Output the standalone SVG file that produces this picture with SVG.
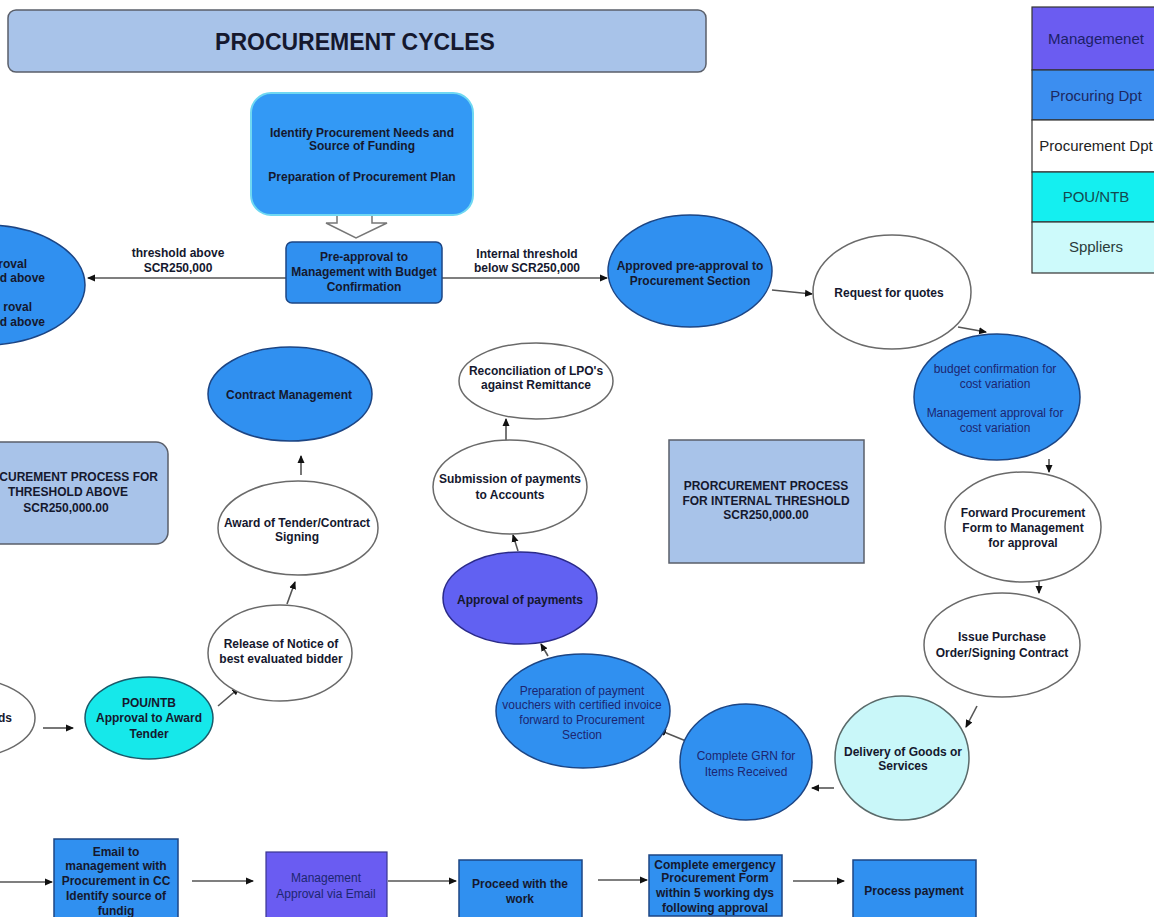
<svg xmlns="http://www.w3.org/2000/svg" width="1154" height="917" viewBox="0 0 1154 917">
  <style>
    text { font-family: "Liberation Sans", Arial, sans-serif; font-size: 12px; font-weight: bold; fill: #15182e; text-anchor: middle; }
    text.nv { font-weight: normal; fill: #1d2670; }
    text.lg { font-weight: normal; font-size: 15px; }
    .blue { fill: #3090f0; stroke: #1c4584; stroke-width: 1.5; }
    .white { fill: #ffffff; stroke: #6a6a6a; stroke-width: 1.5; }
    .purple { fill: #6161f2; stroke: #2a2a8a; stroke-width: 1.5; }
    .cyan { fill: #16e8ea; stroke: #1a5a6a; stroke-width: 1.5; }
    .pale { fill: #c9f7f9; stroke: #5a6a6a; stroke-width: 1.5; }
    .steel { fill: #a8c3e9; stroke: #5a5f6a; stroke-width: 1.5; }
    .conn line, .conn polyline { stroke: #555; stroke-width: 1.6; fill: none; marker-end: url(#head); }
  </style>
  <defs>
    <marker id="head" markerWidth="8" markerHeight="8" refX="7" refY="4" orient="auto" markerUnits="userSpaceOnUse">
      <path d="M0,0.5 L8,4 L0,7.5 Z" fill="#111"/>
    </marker>
  </defs>
  <rect width="1154" height="917" fill="#ffffff"/>

  <!-- heading -->
  <g id="title">
    <rect x="8" y="10" width="698" height="62" rx="8" class="steel"/>
    <text x="355" y="50" style="font-size:23px">PROCUREMENT CYCLES</text>
  </g>

  <!-- colour key -->
  <g id="legend">
    <rect x="1032" y="7" width="130" height="63" fill="#6b5cf1" stroke="#333" stroke-width="1.2"/>
    <rect x="1032" y="70" width="130" height="50" fill="#3c8ef0" stroke="#333" stroke-width="1.2"/>
    <rect x="1032" y="120" width="130" height="52" fill="#ffffff" stroke="#333" stroke-width="1.2"/>
    <rect x="1032" y="172" width="130" height="50" fill="#14eff0" stroke="#333" stroke-width="1.2"/>
    <rect x="1032" y="222" width="130" height="51" fill="#cdfafb" stroke="#333" stroke-width="1.2"/>
    <text class="lg" x="1096" y="44" style="fill:#1c2168">Managemenet</text>
    <text class="lg" x="1096" y="101" style="fill:#1c2860">Procuring Dpt</text>
    <text class="lg" x="1096" y="151" style="fill:#222">Procurement Dpt</text>
    <text class="lg" x="1096" y="202" style="fill:#14484e">POU/NTB</text>
    <text class="lg" x="1096" y="252" style="fill:#2a3a3a">Sppliers</text>
  </g>

  <!-- connectors -->
  <g id="connectors" class="conn">
    <polygon points="337,213 372,213 372,223 387,223 356,238 326,223 337,223" fill="#ffffff" stroke="#777" stroke-width="1.5"/>
    <line x1="286" y1="278" x2="88" y2="278"/>
    <line x1="442" y1="278" x2="607" y2="278"/>
    <line x1="772" y1="290" x2="812" y2="294"/>
    <line x1="958" y1="327" x2="986" y2="332"/>
    <line x1="1049" y1="459" x2="1049" y2="472"/>
    <line x1="1039" y1="580" x2="1039" y2="593"/>
    <line x1="977" y1="706" x2="966" y2="727"/>
    <line x1="834" y1="788" x2="812" y2="788"/>
    <line x1="686" y1="741" x2="659" y2="730"/>
    <line x1="548" y1="656" x2="541" y2="644"/>
    <line x1="518" y1="551" x2="513" y2="535"/>
    <line x1="506" y1="441" x2="506" y2="419"/>
    <line x1="43" y1="728" x2="73" y2="728"/>
    <line x1="218" y1="706" x2="239" y2="688"/>
    <line x1="287" y1="604" x2="295" y2="582"/>
    <line x1="301" y1="475" x2="301" y2="456"/>
    <line x1="0" y1="882" x2="52" y2="882"/>
    <line x1="192" y1="881" x2="253" y2="881"/>
    <line x1="388" y1="881" x2="456" y2="881"/>
    <line x1="598" y1="880" x2="647" y2="880"/>
    <line x1="793" y1="881" x2="844" y2="881"/>
  </g>

  <g id="needs">
    <rect x="251" y="93" width="222" height="122" rx="20" fill="#3399f5" stroke="#6fd8f2" stroke-width="2"/>
    <text x="362" y="137">Identify Procurement Needs and</text>
    <text x="362" y="150">Source of Funding</text>
    <text x="362" y="181">Preparation of Procurement Plan</text>
  </g>

  <g id="pre-approval">
    <rect x="286" y="242" width="156" height="61" rx="6" class="blue"/>
    <text x="364" y="261">Pre-approval to</text>
    <text x="364" y="276">Management with Budget</text>
    <text x="364" y="291">Confirmation</text>
  </g>

  <g id="label-above">
    <text x="178" y="257">threshold above</text>
    <text x="178" y="272">SCR250,000</text>
  </g>
  <g id="label-below">
    <text x="527" y="258">Internal threshold</text>
    <text x="527" y="272">below SCR250,000</text>
  </g>

  <g id="approval-above">
    <ellipse cx="-15" cy="285" rx="100" ry="60" class="blue"/>
    <text x="27" y="268" style="text-anchor:end">roval</text>
    <text x="45" y="282" style="text-anchor:end">d above</text>
    <text x="32" y="311" style="text-anchor:end">roval</text>
    <text x="45" y="326" style="text-anchor:end">d above</text>
  </g>

  <g id="approved-pre-approval">
    <ellipse cx="690" cy="271" rx="82" ry="56" class="blue"/>
    <text x="690" y="270">Approved pre-approval to</text>
    <text x="690" y="285">Procurement Section</text>
  </g>

  <g id="request-quotes">
    <ellipse cx="892" cy="292" rx="79" ry="57" class="white"/>
    <text x="889" y="297">Request for quotes</text>
  </g>

  <g id="budget-confirmation">
    <ellipse cx="997" cy="397" rx="83" ry="63" class="blue"/>
    <text class="nv" x="995" y="373">budget confirmation for</text>
    <text class="nv" x="995" y="388">cost variation</text>
    <text class="nv" x="995" y="417">Management approval for</text>
    <text class="nv" x="995" y="432">cost variation</text>
  </g>

  <g id="forward-form">
    <ellipse cx="1023" cy="527" rx="78" ry="55" class="white"/>
    <text x="1023" y="517">Forward Procurement</text>
    <text x="1023" y="532">Form to Management</text>
    <text x="1023" y="547">for approval</text>
  </g>

  <g id="purchase-order">
    <ellipse cx="1002" cy="645" rx="78" ry="52" class="white"/>
    <text x="1002" y="641">Issue Purchase</text>
    <text x="1002" y="657">Order/Signing Contract</text>
  </g>

  <g id="delivery">
    <ellipse cx="902" cy="758" rx="67" ry="62" class="pale"/>
    <text x="903" y="756">Delivery of Goods or</text>
    <text x="903" y="770">Services</text>
  </g>

  <g id="grn">
    <ellipse cx="746" cy="762" rx="66" ry="58" class="blue"/>
    <text class="nv" x="746" y="760">Complete GRN for</text>
    <text class="nv" x="746" y="776">Items Received</text>
  </g>

  <g id="payment-vouchers">
    <ellipse cx="583" cy="711" rx="87" ry="57" class="blue"/>
    <text class="nv" x="582" y="695">Preparation of payment</text>
    <text class="nv" x="582" y="709">vouchers with certified invoice</text>
    <text class="nv" x="582" y="724">forward to Procurement</text>
    <text class="nv" x="582" y="739">Section</text>
  </g>

  <g id="payment-approval">
    <ellipse cx="520" cy="598" rx="77" ry="46" class="purple"/>
    <text x="520" y="604">Approval of payments</text>
  </g>

  <g id="submission">
    <ellipse cx="510" cy="487" rx="77" ry="47" class="white"/>
    <text x="510" y="483">Submission of payments</text>
    <text x="510" y="499">to Accounts</text>
  </g>

  <g id="reconciliation">
    <ellipse cx="536" cy="381" rx="77" ry="38" class="white"/>
    <text x="536" y="375">Reconciliation of LPO's</text>
    <text x="536" y="389">against Remittance</text>
  </g>

  <g id="internal-process">
    <rect x="669" y="440" width="195" height="123" class="steel"/>
    <text x="766" y="490">PRORCUREMENT PROCESS</text>
    <text x="766" y="505">FOR INTERNAL THRESHOLD</text>
    <text x="766" y="519">SCR250,000.00</text>
  </g>

  <g id="above-process">
    <rect x="-20" y="442" width="188" height="102" rx="12" class="steel"/>
    <text x="158" y="481" style="text-anchor:end">CUREMENT PROCESS FOR</text>
    <text x="68" y="496">THRESHOLD ABOVE</text>
    <text x="66" y="512">SCR250,000.00</text>
  </g>

  <g id="contract-management">
    <ellipse cx="290" cy="394" rx="82" ry="47" class="blue"/>
    <text x="289" y="399">Contract Management</text>
  </g>

  <g id="award">
    <ellipse cx="298" cy="528" rx="80" ry="47" class="white"/>
    <text x="297" y="527">Award of Tender/Contract</text>
    <text x="297" y="541">Signing</text>
  </g>

  <g id="release-notice">
    <ellipse cx="280" cy="653" rx="72" ry="48" class="white"/>
    <text x="281" y="648">Release of Notice of</text>
    <text x="281" y="663">best evaluated bidder</text>
  </g>

  <g id="bids">
    <ellipse cx="-37" cy="718" rx="72" ry="40" class="white"/>
    <text x="12" y="722" style="text-anchor:end">ds</text>
  </g>

  <g id="pou-approval">
    <ellipse cx="149" cy="718" rx="64" ry="41" class="cyan"/>
    <text x="149" y="707">POU/NTB</text>
    <text x="149" y="722">Approval to Award</text>
    <text x="149" y="738">Tender</text>
  </g>

  <!-- emergency route -->
  <g id="email-management">
    <rect x="54" y="839" width="124" height="90" class="blue"/>
    <text x="116" y="856">Email to</text>
    <text x="116" y="870">management with</text>
    <text x="116" y="885">Procurement in CC</text>
    <text x="116" y="900">Identify source of</text>
    <text x="116" y="915">fundig</text>
  </g>

  <g id="management-email">
    <rect x="266" y="852" width="121" height="75" fill="#6a5cf2" stroke="#3a3490" stroke-width="1.2"/>
    <text class="nv" x="326" y="882">Management</text>
    <text class="nv" x="326" y="898">Approval via Email</text>
  </g>

  <g id="proceed">
    <rect x="459" y="860" width="123" height="67" class="blue"/>
    <text x="520" y="888">Proceed with the</text>
    <text x="520" y="903">work</text>
  </g>

  <g id="emergency-form">
    <rect x="649" y="855" width="133" height="61" class="blue"/>
    <text x="715" y="869">Complete emergency</text>
    <text x="715" y="882">Procurement Form</text>
    <text x="715" y="897">within 5 working dys</text>
    <text x="715" y="912">following approval</text>
  </g>

  <g id="process-payment">
    <rect x="853" y="860" width="123" height="67" class="blue"/>
    <text x="914" y="895">Process payment</text>
  </g>
</svg>
